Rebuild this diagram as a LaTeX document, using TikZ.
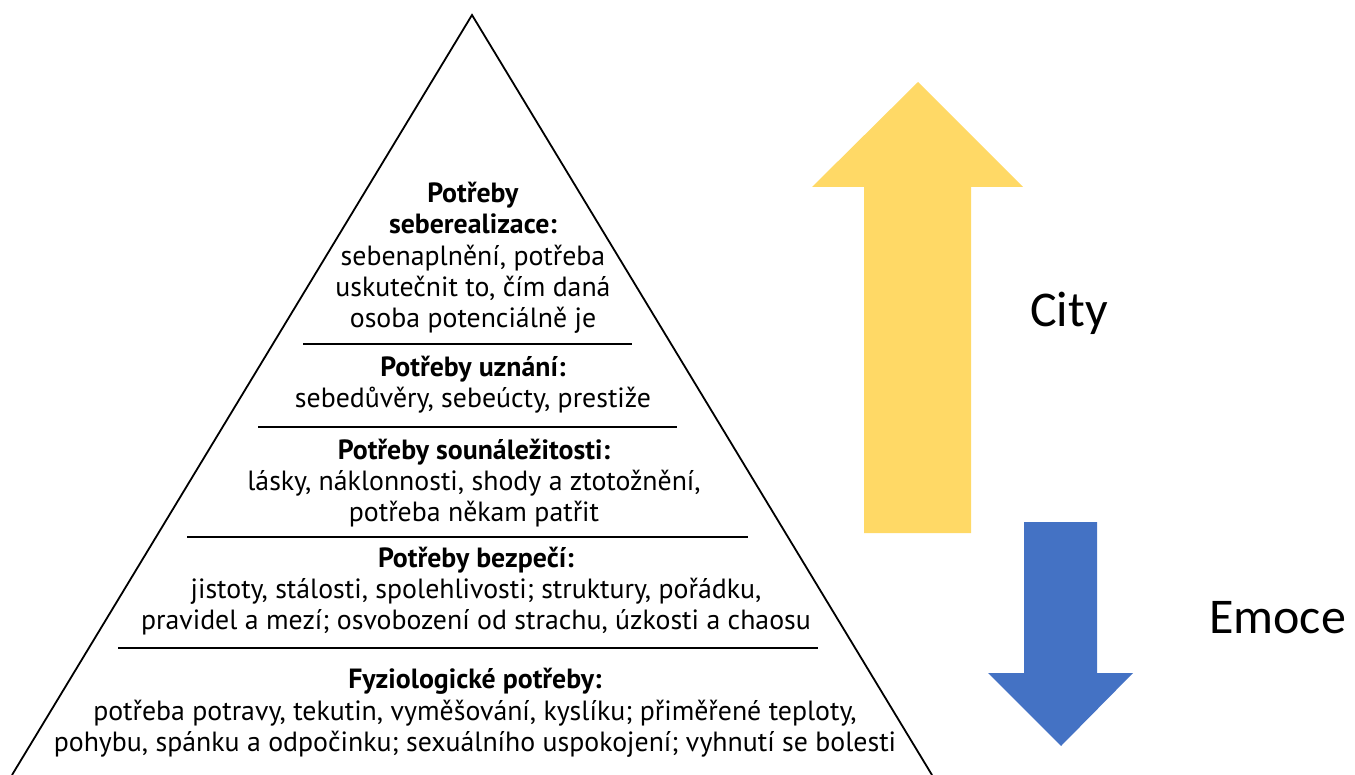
\documentclass[tikz,border=0pt]{standalone}
\usepackage{fontspec}
\setmainfont{PT Sans}
\newfontfamily\calibri{Carlito}
\definecolor{zluta}{HTML}{FFD966}
\definecolor{modra}{HTML}{4472C4}
\tikzset{
  patro/.style={align=center, font=\fontsize{27.8}{31.3}\selectfont, inner sep=0pt},
  popis/.style={anchor=base west, font=\calibri\fontsize{50}{60}\selectfont, inner sep=0pt},
  cara/.style={line width=1.8pt}
}
\begin{document}
\begin{tikzpicture}[x=1pt, y=-1pt]
  \useasboundingbox (0,0) rectangle (1355,775);

  % Pyramida
  \coordinate (V) at (472,15);
  \coordinate (L) at (12,775);
  \coordinate (R) at (932,775);
  \draw[cara, line join=miter] (L) -- (V) -- (R);

  % Dělicí čáry
  \draw[cara] (303,344) -- (632,344);
  \draw[cara] (258,427) -- (677,427);
  \draw[cara] (187,537) -- (748,537);
  \draw[cara] (118,648) -- (818,648);

  % Patra pyramidy
  \node[patro] (sebe) at (473,258) {\textbf{Potřeby}\\ \textbf{seberealizace:}\\
    sebenaplnění, potřeba\\ uskutečnit to, čím daná\\ osoba potenciálně je};
  \node[patro] (uznani) at (473,385) {\textbf{Potřeby uznání:}\\
    sebedůvěry, sebeúcty, prestiže};
  \node[patro] (soun) at (474,483) {\textbf{Potřeby sounáležitosti:}\\
    lásky, náklonnosti, shody a ztotožnění,\\ potřeba někam patřit};
  \node[patro] (bezp) at (476,591) {\textbf{Potřeby bezpečí:}\\
    jistoty, stálosti, spolehlivosti; struktury, pořádku,\\
    pravidel a mezí; osvobození od strachu, úzkosti a chaosu};
  \node[patro] (fyz) at (475,713) {\textbf{Fyziologické potřeby:}\\
    potřeba potravy, tekutin, vyměšování, kyslíku; přiměřené teploty,\\
    pohybu, spánku a odpočinku; sexuálního uspokojení; vyhnutí se bolesti};

  % Šipka nahoru
  \fill[zluta] (864,533) -- (864,187) -- (812,187) -- (918,82)
    -- (1023,187) -- (971,187) -- (971,533) -- cycle;
  % Šipka dolů
  \fill[modra] (1024,522) -- (1024,673) -- (988,673) -- (1061,746)
    -- (1133,673) -- (1097,673) -- (1097,522) -- cycle;

  % Popisky
  \node[popis] (city) at (1030,327) {City};
  \node[popis] (emoce) at (1209,633) {Emoce};
\end{tikzpicture}
\end{document}
